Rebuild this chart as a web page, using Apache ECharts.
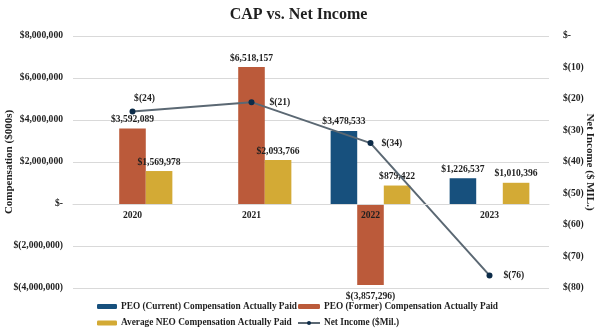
<!DOCTYPE html>
<html>
<head>
<meta charset="utf-8">
<script src="https://cdn.jsdelivr.net/npm/echarts@6/dist/echarts.min.js"></script>
<style>
  html, body { margin: 0; padding: 0; background: #ffffff; }
  #chart { width: 597px; height: 328px; }
</style>
</head>
<body>
<div id="chart"></div>
<script>
// Fiscal years on the category axis
const years = ['2020', '2021', '2022', '2023'];

// Compensation actually paid (USD)
const peoCurrent = [null, null, 3478533, 1226537];
const peoFormer = [3592089, 6518157, -3857296, null];
const avgNeo = [1569978, 2093766, 879422, 1010396];

// Net income ($ millions)
const netIncome = [-24, -21, -34, -76];

// Left axis ticks (USD) and right axis ticks ($ millions)
const compTicks = { min: -4000000, max: 8000000, step: 2000000 };
const incomeTicks = { min: -80, max: 0, step: 10 };

const FONT = '"Liberation Serif", "Times New Roman", serif';
const TEXT = '#1f1f1f';
const BLUE = '#17507d';
const ORANGE = '#bb5a3a';
const GOLD = '#d3aa35';
const LINE = '#5b6873';
const MARKER = '#0c2b48';

// Plot box
const GRID = { left: 73, right: 48, top: 36, bottom: 40 };
const PLOT_H = 328 - GRID.top - GRID.bottom;
// Shift the category axis up from the plot bottom to the zero line
const zeroShift = PLOT_H * (0 - compTicks.min) / (compTicks.max - compTicks.min);

function money(v) {
  if (v === 0) return '$-';
  const s = Math.abs(v).toLocaleString('en-US');
  return v < 0 ? '$(' + s + ')' : '$' + s;
}

const barLabel = {
  show: true,
  position: 'top',
  distance: 4,
  fontFamily: FONT,
  fontWeight: 'bold',
  fontSize: 9.6,
  color: TEXT,
  formatter: p => money(p.value)
};

function barSeries(name, values, color) {
  return {
    name: name,
    type: 'bar',
    data: values.map(v => v === null ? null : {
      value: v,
      label: v < 0 ? { position: 'bottom', distance: 7 } : undefined
    }),
    itemStyle: { color: color },
    barGap: '0%',
    barCategoryGap: '33%',
    label: barLabel,
    z: 2
  };
}

// Per-point label placement for the net income line
const incomeLabelPlacement = [
  { position: 'top', offset: [12, 0], distance: 5 },
  { position: 'right', distance: 15 },
  { position: 'right', distance: 8 },
  { position: 'right', distance: 11 }
];

const legendText = { fontFamily: FONT, fontWeight: 'bold', fontSize: 9.3, color: TEXT, padding: [0, 0, 0, -1] };

const chart = echarts.init(document.getElementById('chart'), null, { renderer: 'canvas' });

chart.setOption({
  animation: false,
  backgroundColor: '#ffffff',
  textStyle: { fontFamily: FONT },
  title: {
    text: 'CAP vs. Net Income',
    left: 'center',
    top: 2,
    textStyle: { fontFamily: FONT, fontWeight: 'bold', fontSize: 16, color: TEXT }
  },
  grid: {
    left: GRID.left, right: GRID.right, top: GRID.top, bottom: GRID.bottom,
    containLabel: false,
    outerBoundsMode: 'none'
  },
  legend: [
    {
      data: ['PEO (Current) Compensation Actually Paid', 'Average NEO Compensation Actually Paid'],
      orient: 'vertical',
      left: 92,
      top: 297,
      height: 40,
      itemWidth: 20,
      itemHeight: 5,
      itemGap: 7.5,
      textStyle: legendText
    },
    {
      data: ['PEO (Former) Compensation Actually Paid', 'Net Income ($Mil.)'],
      orient: 'vertical',
      left: 292,
      top: 297,
      height: 40,
      itemWidth: 22,
      itemHeight: 5,
      itemGap: 7.5,
      textStyle: legendText
    }
  ],
  xAxis: {
    type: 'category',
    data: years,
    z: 10,
    position: 'bottom',
    offset: -zeroShift,
    axisLine: { onZero: false, lineStyle: { color: '#d9d9d9', width: 1 } },
    axisTick: { show: false },
    axisLabel: {
      fontFamily: FONT, fontWeight: 'bold', fontSize: 9.6, color: TEXT, margin: 7
    }
  },
  yAxis: [
    {
      type: 'value',
      min: compTicks.min,
      max: compTicks.max,
      interval: compTicks.step,
      name: 'Compensation ($000s)',
      nameLocation: 'middle',
      nameGap: 58,
      nameRotate: 90,
      nameMoveOverlap: false,
      nameTextStyle: { fontFamily: FONT, fontWeight: 'bold', fontSize: 11, color: TEXT },
      axisLine: { show: false },
      axisTick: { show: false },
      splitLine: { lineStyle: { color: '#d9d9d9', width: 1 } },
      axisLabel: {
        fontFamily: FONT, fontWeight: 'bold', fontSize: 9.6, color: TEXT, margin: 10,
        formatter: v => money(v)
      }
    },
    {
      type: 'value',
      position: 'right',
      min: incomeTicks.min,
      max: incomeTicks.max,
      interval: incomeTicks.step,
      name: 'Net Income ($ MIL.)',
      nameLocation: 'middle',
      nameGap: 35,
      nameRotate: -90,
      nameMoveOverlap: false,
      nameTextStyle: { fontFamily: FONT, fontWeight: 'bold', fontSize: 11, color: TEXT },
      axisLine: { show: false },
      axisTick: { show: false },
      splitLine: { show: false },
      axisLabel: {
        fontFamily: FONT, fontWeight: 'bold', fontSize: 9.6, color: TEXT, margin: 14,
        formatter: v => v === 0 ? '$-' : '$(' + Math.abs(v) + ')'
      }
    }
  ],
  series: [
    barSeries('PEO (Current) Compensation Actually Paid', peoCurrent, BLUE),
    barSeries('PEO (Former) Compensation Actually Paid', peoFormer, ORANGE),
    barSeries('Average NEO Compensation Actually Paid', avgNeo, GOLD),
    {
      name: 'Net Income ($Mil.)',
      type: 'line',
      yAxisIndex: 1,
      data: netIncome.map((v, i) => ({ value: v, label: incomeLabelPlacement[i] })),
      symbol: 'circle',
      symbolSize: 6,
      lineStyle: { color: LINE, width: 2 },
      itemStyle: { color: MARKER },
      label: {
        show: true,
        fontFamily: FONT,
        fontWeight: 'bold',
        fontSize: 9.6,
        color: TEXT,
        formatter: p => '$(' + Math.abs(p.value) + ')'
      },
      z: 5
    }
  ]
});
</script>
</body>
</html>
